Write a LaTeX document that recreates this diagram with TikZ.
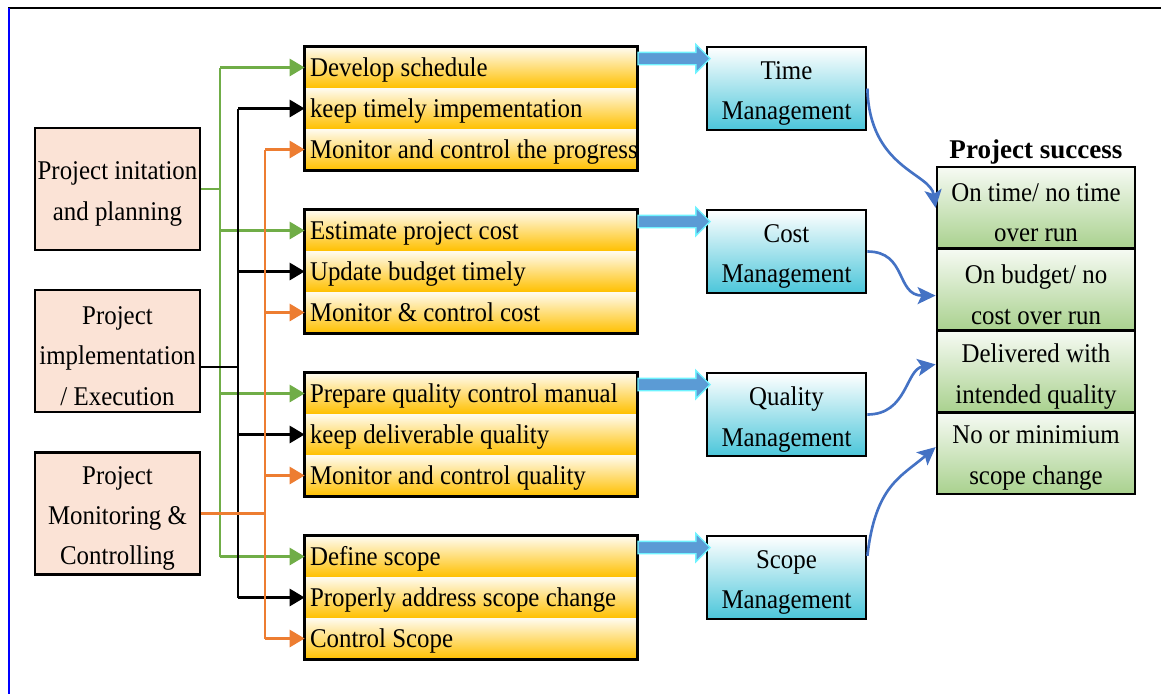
\documentclass[tikz,border=0pt]{standalone}
\usepackage{fontspec}
\setmainfont{Liberation Serif}[FakeStretch=0.92]
\newfontfamily\titlefont{Liberation Serif}
\usetikzlibrary{arrows.meta,shapes.arrows}
\definecolor{phasefill}{HTML}{FBE3D6}
\definecolor{taskyellow}{HTML}{FFC000}
\definecolor{mgmtcyan}{HTML}{4BC6DA}
\definecolor{okgreen}{HTML}{A9D18E}
\definecolor{lngreen}{HTML}{70AD47}
\definecolor{lnorange}{HTML}{ED7D31}
\definecolor{lnblue}{HTML}{4472C4}
\definecolor{fatblue}{HTML}{5B9BD5}
\definecolor{fatcyan}{HTML}{6FF3FF}
\begin{document}
\begin{tikzpicture}[x=0.02cm,y=-0.02cm,
  every node/.style={font=\fontsize{15.4}{23}\selectfont},
  lowtext/.style={align=center,inner sep=0,yshift=-0.1cm},
  phase/.style={draw,line width=1.6pt,fill=phasefill,minimum width=3.3cm,minimum height=2.44cm},
  task/.style={top color=taskyellow!6,bottom color=taskyellow,minimum height=0.815cm,minimum width=6.64cm,inner xsep=0.1cm,inner ysep=0,text height=1.1em,text depth=0.06em},
  mgmt/.style={draw,line width=1.6pt,top color=white,bottom color=mgmtcyan,minimum width=3.18cm,minimum height=1.66cm},
  goal/.style={draw,line width=1.6pt,top color=okgreen!10,bottom color=okgreen,minimum width=3.96cm,minimum height=1.635cm},
  fat/.style={single arrow,draw=fatcyan,fill=fatblue,line width=0.8pt,minimum height=1.44cm,single arrow head extend=0.16cm,inner xsep=0,inner ysep=0.11cm},
  feed/.style={line width=1.6pt,-{Triangle[length=0.3cm,width=0.34cm]}},
  curveline/.style={lnblue,line width=1.5pt,-{Stealth[length=0.36cm,width=0.34cm,inset=0.08cm]}}]
\useasboundingbox (0,0) rectangle (1161,694);
\draw[line width=1.2pt] (8,8) -- (1161,8);
\draw[blue,line width=1.2pt] (9,8) -- (9,694);
% phases
\node[phase,label={[lowtext]center:Project initation\\and planning}] (p1) at (117.5,189) {};
\node[phase,label={[lowtext]center:Project\\implementation\\/ Execution}] (p2) at (117.5,351) {};
\node[phase,label={[lowtext]center:Project\\Monitoring \&\\Controlling}] (p3) at (117.5,513.5) {};
% activities
\foreach \n/\y/\txt in {11/67.5/Develop schedule, 12/108.5/keep timely impementation, 13/149.5/Monitor and control the progress,
  21/230.5/Estimate project cost, 22/271.5/Update budget timely, 23/312.5/Monitor \& control cost,
  31/393.5/Prepare quality control manual, 32/434.5/keep deliverable quality, 33/475.5/Monitor and control quality,
  41/556.5/Define scope, 42/597.5/Properly address scope change, 43/638.5/Control Scope}
  \node[task] (t\n) at (471,\y) {\makebox[6.44cm][l]{\txt}};
\foreach \g in {1,...,4} \draw[line width=1.6pt] (t\g1.north west) rectangle (t\g3.south east);
% management areas
\node[mgmt,label={[lowtext]center:Time\\Management}] (m1) at (786.5,88.5) {};
\node[mgmt,label={[lowtext]center:Cost\\Management}] (m2) at (786.5,251.5) {};
\node[mgmt,label={[lowtext]center:Quality\\Management}] (m3) at (786.5,414.5) {};
\node[mgmt,label={[lowtext]center:Scope\\Management}] (m4) at (786.5,577.5) {};
\foreach \g in {1,...,4} \node[fat,anchor=tail] (a\g) at ([yshift=0.18cm]t\g1.east) {};
% success
\node[font=\fontsize{15.4}{18}\titlefont\bfseries] (ps) at (1036,152) {Project success};
\node[goal,label={[lowtext]center:On time/ no time\\over run}] (g1) at (1036,207.9) {};
\node[goal,label={[lowtext]center:On budget/ no\\cost over run}] (g2) at (1036,289.6) {};
\node[goal,label={[lowtext]center:Delivered with\\intended quality}] (g3) at (1036,371.4) {};
\node[goal,label={[lowtext]center:No or minimium\\scope change}] (g4) at (1036,453.1) {};
% feeders
\coordinate (gx) at (220,0);
\coordinate (kx) at (238,0);
\coordinate (ox) at (265,0);
\coordinate (p2o) at ([yshift=-0.32cm]p2.east);
\draw[lngreen,line width=1.6pt] (p1.east) -- (p1.east -| gx);
\draw[lngreen,line width=1.6pt] (gx |- t11.west) -- (gx |- t41.west);
\foreach \g in {1,...,4} \draw[feed,lngreen] (gx |- t\g1.west) -- (t\g1.west);
\draw[line width=1.6pt] (p2o) -- (p2o -| kx);
\draw[line width=1.6pt] (kx |- t12.west) -- (kx |- t42.west);
\foreach \g in {1,...,4} \draw[feed] (kx |- t\g2.west) -- (t\g2.west);
\draw[lnorange,line width=1.6pt] (p3.east) -- (p3.east -| ox);
\draw[lnorange,line width=1.6pt] (ox |- t13.west) -- (ox |- t43.west);
\foreach \g in {1,...,4} \draw[feed,lnorange] (ox |- t\g3.west) -- (t\g3.west);
% outcomes
\draw[curveline] (m1.east) .. controls +(2,80) and +(-5,-35) .. (g1.west);
\draw[curveline] (m2.east) .. controls +(40,0) and +(-40,0) .. ([yshift=-0.12cm]g2.west);
\draw[curveline] (m3.east) .. controls +(40,0) and +(-30,5) .. ([yshift=0.14cm]g3.west);
\draw[curveline] (m4.15) .. controls +(8,-70) and +(-35,30) .. ([yshift=0.12cm]g4.west);
\end{tikzpicture}
\end{document}
